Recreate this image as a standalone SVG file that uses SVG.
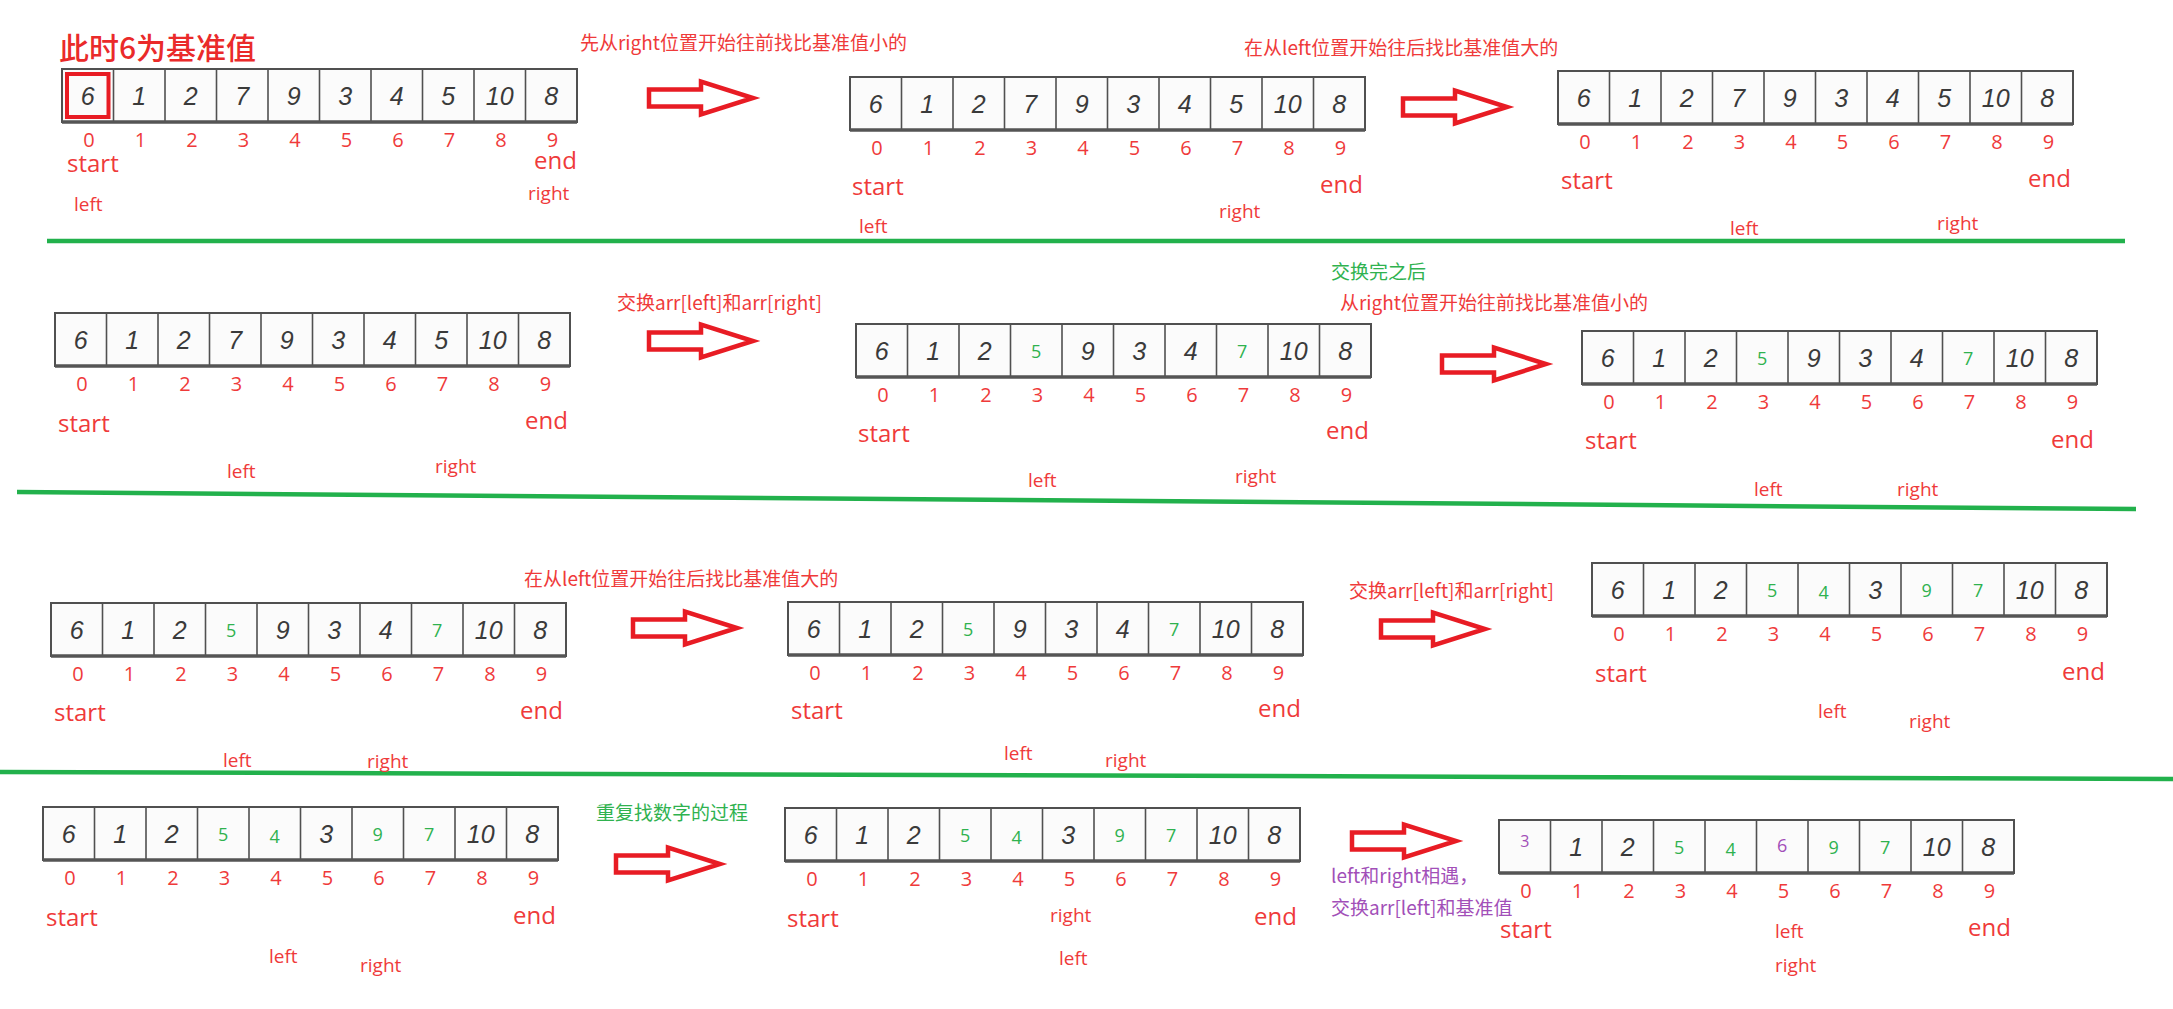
<svg xmlns="http://www.w3.org/2000/svg" xmlns:xlink="http://www.w3.org/1999/xlink" width="2173" height="1009" viewBox="0 0 2173 1009">
<style>
.bg{fill:#ffffff}
.cell{fill:#fbfbfb;stroke:#505050;stroke-width:2}
.div{stroke:#505050;stroke-width:1.6}
.base{stroke:#555;stroke-width:3.5}
.n{font-family:"Liberation Sans",sans-serif;font-style:italic;font-size:25px;fill:#3a3a3a;text-anchor:middle}
.g{font-family:"Open Sans",sans-serif;font-size:18px;fill:#2fb24f;text-anchor:middle}
.p{font-family:"Open Sans",sans-serif;font-size:18px;fill:#a24fb8;text-anchor:middle}
.i{font-family:"Open Sans",sans-serif;font-size:20px;fill:#ef3a3a;text-anchor:middle}
.se{font-family:"Open Sans",sans-serif;font-size:24px;fill:#ef3a3a}
.lr{font-family:"Open Sans",sans-serif;font-size:19px;fill:#ef3a3a}
.cap{font-family:"Noto Sans CJK SC",sans-serif;font-size:19px;fill:#ef3a3a}
.capg{font-family:"Noto Sans CJK SC",sans-serif;font-size:19px;fill:#2fb24f}
.capp{font-family:"Noto Sans CJK SC",sans-serif;font-size:19px;fill:#a24fb8}
.title{font-family:"Noto Sans CJK SC",sans-serif;font-size:30px;font-weight:500;fill:#ea2a2a}
.arrow{fill:#ffffff;stroke:#e81c24;stroke-width:4.5;stroke-linejoin:miter}
.sep{stroke:#22b14c;stroke-width:4.5;fill:none}
.hl{fill:none;stroke:#e81c24;stroke-width:4}
</style>
<defs>
<g id="arr">
<rect class="cell" x="0" y="0" width="515" height="53"/>
<line class="div" x1="51.5" y1="0" x2="51.5" y2="53"/>
<line class="div" x1="103" y1="0" x2="103" y2="53"/>
<line class="div" x1="154.5" y1="0" x2="154.5" y2="53"/>
<line class="div" x1="206" y1="0" x2="206" y2="53"/>
<line class="div" x1="257.5" y1="0" x2="257.5" y2="53"/>
<line class="div" x1="309" y1="0" x2="309" y2="53"/>
<line class="div" x1="360.5" y1="0" x2="360.5" y2="53"/>
<line class="div" x1="412" y1="0" x2="412" y2="53"/>
<line class="div" x1="463.5" y1="0" x2="463.5" y2="53"/>
<line class="base" x1="0" y1="53" x2="515" y2="53"/>
</g>
<g id="idx">
<text class="i" x="27" y="78">0</text>
<text class="i" x="78.5" y="78">1</text>
<text class="i" x="130" y="78">2</text>
<text class="i" x="181.5" y="78">3</text>
<text class="i" x="233" y="78">4</text>
<text class="i" x="284.5" y="78">5</text>
<text class="i" x="336" y="78">6</text>
<text class="i" x="387.5" y="78">7</text>
<text class="i" x="439" y="78">8</text>
<text class="i" x="490.5" y="78">9</text>
</g>
<g id="orig">
<text class="n" x="25.75" y="36">6</text>
<text class="n" x="77.25" y="36">1</text>
<text class="n" x="128.75" y="36">2</text>
<text class="n" x="180.25" y="36">7</text>
<text class="n" x="231.75" y="36">9</text>
<text class="n" x="283.25" y="36">3</text>
<text class="n" x="334.75" y="36">4</text>
<text class="n" x="386.25" y="36">5</text>
<text class="n" x="437.75" y="36">10</text>
<text class="n" x="489.25" y="36">8</text>
</g>
<g id="swap1">
<text class="n" x="25.75" y="36">6</text>
<text class="n" x="77.25" y="36">1</text>
<text class="n" x="128.75" y="36">2</text>
<text class="g" x="180.25" y="34">5</text>
<text class="n" x="231.75" y="36">9</text>
<text class="n" x="283.25" y="36">3</text>
<text class="n" x="334.75" y="36">4</text>
<text class="g" x="386.25" y="34">7</text>
<text class="n" x="437.75" y="36">10</text>
<text class="n" x="489.25" y="36">8</text>
</g>
<g id="swap2">
<text class="n" x="25.75" y="36">6</text>
<text class="n" x="77.25" y="36">1</text>
<text class="n" x="128.75" y="36">2</text>
<text class="g" x="180.25" y="34">5</text>
<text class="g" x="231.75" y="36">4</text>
<text class="n" x="283.25" y="36">3</text>
<text class="g" x="334.75" y="34">9</text>
<text class="g" x="386.25" y="34">7</text>
<text class="n" x="437.75" y="36">10</text>
<text class="n" x="489.25" y="36">8</text>
</g>
<polygon id="arrowShape" class="arrow" points="0,-8.5 52,-8.5 52,-16.5 104,0 52,16.5 52,8.5 0,8.5"/>
</defs>
<rect class="bg" x="0" y="0" width="2173" height="1009"/>

<g id="separators">
<line class="sep" x1="47" y1="241" x2="2125" y2="241"/>
<line class="sep" x1="17" y1="492" x2="2136" y2="509"/>
<line class="sep" x1="0" y1="772" x2="2173" y2="779"/>
</g>

<g id="captions">
<text class="title" x="59" y="59">此时6为基准值</text>
<text class="cap" x="580" y="50">先从right位置开始往前找比基准值小的</text>
<text class="cap" x="1244" y="55">在从left位置开始往后找比基准值大的</text>
<text class="cap" x="617" y="310">交换arr[left]和arr[right]</text>
<text class="capg" x="1331" y="279">交换完之后</text>
<text class="cap" x="1340" y="310">从right位置开始往前找比基准值小的</text>
<text class="cap" x="524" y="586">在从left位置开始往后找比基准值大的</text>
<text class="cap" x="1349" y="598">交换arr[left]和arr[right]</text>
<text class="capg" x="596" y="820">重复找数字的过程</text>
<text class="capp" x="1331" y="883">left和right相遇，</text>
<text class="capp" x="1331" y="915">交换arr[left]和基准值</text>
</g>

<g id="step1">
<g transform="translate(62,69)"><use href="#arr"/><use href="#orig"/><use href="#idx"/><rect class="hl" x="5" y="5" width="41.5" height="43"/></g>
<text class="se" x="67" y="172">start</text><text class="se" x="534" y="169">end</text>
<text class="lr" x="528" y="200">right</text><text class="lr" x="74" y="211">left</text>
</g>
<g id="step2">
<g transform="translate(850,77)"><use href="#arr"/><use href="#orig"/><use href="#idx"/></g>
<text class="se" x="852" y="195">start</text><text class="se" x="1320" y="193">end</text>
<text class="lr" x="1219" y="218">right</text><text class="lr" x="859" y="233">left</text>
</g>
<g id="step3">
<g transform="translate(1558,71)"><use href="#arr"/><use href="#orig"/><use href="#idx"/></g>
<text class="se" x="1561" y="189">start</text><text class="se" x="2028" y="187">end</text>
<text class="lr" x="1730" y="235">left</text><text class="lr" x="1937" y="230">right</text>
</g>
<g id="step4">
<g transform="translate(55,313)"><use href="#arr"/><use href="#orig"/><use href="#idx"/></g>
<text class="se" x="58" y="432">start</text><text class="se" x="525" y="429">end</text>
<text class="lr" x="227" y="478">left</text><text class="lr" x="435" y="473">right</text>
</g>
<g id="step5">
<g transform="translate(856,324)"><use href="#arr"/><use href="#swap1"/><use href="#idx"/></g>
<text class="se" x="858" y="442">start</text><text class="se" x="1326" y="439">end</text>
<text class="lr" x="1028" y="487">left</text><text class="lr" x="1235" y="483">right</text>
</g>
<g id="step6">
<g transform="translate(1582,331)"><use href="#arr"/><use href="#swap1"/><use href="#idx"/></g>
<text class="se" x="1585" y="449">start</text><text class="se" x="2051" y="448">end</text>
<text class="lr" x="1754" y="496">left</text><text class="lr" x="1897" y="496">right</text>
</g>
<g id="step7">
<g transform="translate(51,603)"><use href="#arr"/><use href="#swap1"/><use href="#idx"/></g>
<text class="se" x="54" y="721">start</text><text class="se" x="520" y="719">end</text>
<text class="lr" x="223" y="767">left</text><text class="lr" x="367" y="768">right</text>
</g>
<g id="step8">
<g transform="translate(788,602)"><use href="#arr"/><use href="#swap1"/><use href="#idx"/></g>
<text class="se" x="791" y="719">start</text><text class="se" x="1258" y="717">end</text>
<text class="lr" x="1004" y="760">left</text><text class="lr" x="1105" y="767">right</text>
</g>
<g id="step9">
<g transform="translate(1592,563)"><use href="#arr"/><use href="#swap2"/><use href="#idx"/></g>
<text class="se" x="1595" y="682">start</text><text class="se" x="2062" y="680">end</text>
<text class="lr" x="1818" y="718">left</text><text class="lr" x="1909" y="728">right</text>
</g>
<g id="step10">
<g transform="translate(43,807)"><use href="#arr"/><use href="#swap2"/><use href="#idx"/></g>
<text class="se" x="46" y="926">start</text><text class="se" x="513" y="924">end</text>
<text class="lr" x="269" y="963">left</text><text class="lr" x="360" y="972">right</text>
</g>
<g id="step11">
<g transform="translate(785,808)"><use href="#arr"/><use href="#swap2"/><use href="#idx"/></g>
<text class="se" x="787" y="927">start</text><text class="se" x="1254" y="925">end</text>
<text class="lr" x="1050" y="922">right</text><text class="lr" x="1059" y="965">left</text>
</g>
<g id="step12">
<g transform="translate(1499,820)"><use href="#arr"/>
<text class="p" x="25.75" y="27" style="font-size:16px">3</text>
<text class="n" x="77.25" y="36">1</text>
<text class="n" x="128.75" y="36">2</text>
<text class="g" x="180.25" y="34">5</text>
<text class="g" x="231.75" y="36">4</text>
<text class="p" x="283.25" y="32">6</text>
<text class="g" x="334.75" y="34">9</text>
<text class="g" x="386.25" y="34">7</text>
<text class="n" x="437.75" y="36">10</text>
<text class="n" x="489.25" y="36">8</text>
<use href="#idx"/></g>
<text class="se" x="1500" y="938">start</text><text class="se" x="1968" y="936">end</text>
<text class="lr" x="1775" y="938">left</text><text class="lr" x="1775" y="972">right</text>
</g>

<g id="connectors">
<use href="#arrowShape" transform="translate(649,98)"/>
<use href="#arrowShape" transform="translate(1403,107)"/>
<use href="#arrowShape" transform="translate(649,341)"/>
<use href="#arrowShape" transform="translate(1442,364)"/>
<use href="#arrowShape" transform="translate(633,628)"/>
<use href="#arrowShape" transform="translate(1381,629)"/>
<use href="#arrowShape" transform="translate(616,864)"/>
<use href="#arrowShape" transform="translate(1352,841)"/>
</g>
</svg>
